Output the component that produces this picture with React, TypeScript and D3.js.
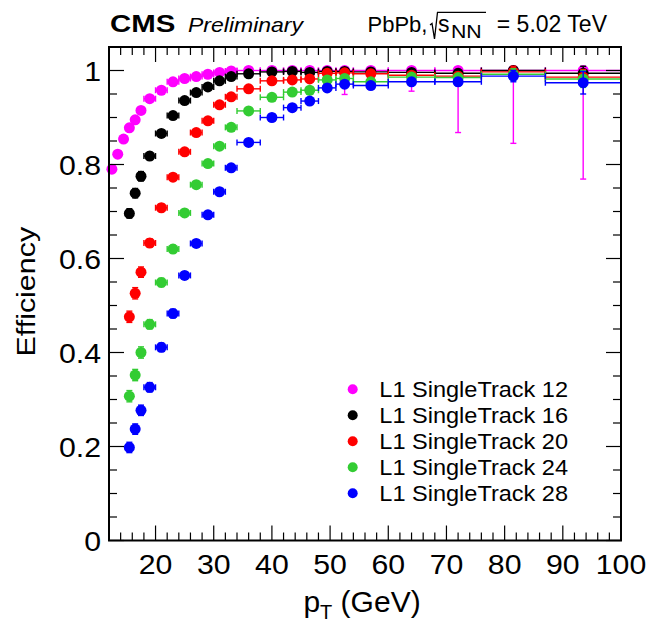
import React, { useMemo } from "react";
import * as d3 from "d3";

// ---- data ----
const binEdges = [12, 13, 14, 15, 16, 17, 18, 20, 22, 24, 26, 28, 30, 32, 34, 38, 42, 45, 48, 51, 54, 60, 68, 76, 87, 100];

const eff12 = [0.790, 0.822, 0.854, 0.878, 0.895, 0.915, 0.940, 0.958, 0.976, 0.983, 0.987, 0.992, 0.996, 0.999, 1.0, 1.0, 1.0, 1.0, 1.0, 1.0, 1.0, 1.0, 1.0, 1.0, 1.0];
const eff16 = [null, null, null, 0.696, 0.739, 0.775, 0.818, 0.866, 0.904, 0.936, 0.953, 0.965, 0.978, 0.987, 0.993, 0.997, 0.998, 0.996, 0.998, 0.998, 0.997, 0.996, 0.994, 1.0, 0.994];
const eff20 = [null, null, null, 0.476, 0.526, 0.571, 0.633, 0.708, 0.773, 0.827, 0.868, 0.893, 0.927, 0.944, 0.961, 0.978, 0.980, 0.982, 0.994, 0.995, 0.993, 0.990, 0.988, 0.997, 0.986];
const eff24 = [null, null, null, 0.307, 0.352, 0.400, 0.460, 0.549, 0.620, 0.697, 0.757, 0.802, 0.839, 0.879, 0.914, 0.943, 0.954, 0.958, 0.980, 0.983, 0.976, 0.986, 0.985, 0.992, 0.982];
const eff28 = [null, null, null, 0.198, 0.237, 0.277, 0.326, 0.411, 0.483, 0.564, 0.632, 0.693, 0.742, 0.793, 0.847, 0.900, 0.921, 0.935, 0.963, 0.971, 0.968, 0.976, 0.976, 0.988, 0.974];

// lower / upper statistical errors
const errLo12 = [0, 0, 0, 0, 0, 0, 0, 0, 0, 0, 0, 0, 0, 0, 0, 0, 0, 0, 0, 0.051, 0.01, 0.044, 0.132, 0.155, 0.231];
const errHi12 = [0, 0, 0, 0, 0, 0, 0, 0, 0, 0, 0, 0, 0, 0, 0, 0, 0, 0, 0, 0, 0, 0, 0, 0, 0];
const err16 = [0, 0, 0, 0.01, 0.01, 0.01, 0.008, 0.007, 0.006, 0.005, 0.004, 0.004, 0.003, 0.003, 0.003, 0.002, 0.002, 0.003, 0.003, 0.003, 0.004, 0.005, 0.008, 0.012, 0.015];
const err20 = [0, 0, 0, 0.012, 0.012, 0.011, 0.009, 0.008, 0.007, 0.006, 0.005, 0.005, 0.004, 0.004, 0.003, 0.003, 0.003, 0.003, 0.003, 0.004, 0.004, 0.005, 0.008, 0.012, 0.016];
const err24 = [0, 0, 0, 0.012, 0.012, 0.012, 0.01, 0.009, 0.008, 0.007, 0.006, 0.006, 0.005, 0.005, 0.004, 0.004, 0.004, 0.004, 0.004, 0.004, 0.005, 0.006, 0.008, 0.012, 0.018];
const err28 = [0, 0, 0, 0.011, 0.011, 0.011, 0.01, 0.009, 0.009, 0.008, 0.008, 0.007, 0.007, 0.006, 0.006, 0.005, 0.005, 0.005, 0.005, 0.005, 0.006, 0.007, 0.008, 0.012, 0.024];

const seriesLabels = ["L1 SingleTrack 12", "L1 SingleTrack 16", "L1 SingleTrack 20", "L1 SingleTrack 24", "L1 SingleTrack 28"];
const seriesColors = ["#ff00ff", "#000000", "#ff0000", "#33cc33", "#0000ff"];

const xMajorTicks = [20, 30, 40, 50, 60, 70, 80, 90, 100];
const yMajorTicks = [0, 0.2, 0.4, 0.6, 0.8, 1];
const yTickLabels = ["0", "0.2", "0.4", "0.6", "0.8", "1"];

const FONT = "'Liberation Sans', Arial, Helvetica, sans-serif";

export default function App() {
  const W = 649, H = 622;
  const left = 109, right = 621, top = 47, bottom = 540.5;
  const x = d3.scaleLinear().domain([12, 100]).range([left, right]);
  const y = d3.scaleLinear().domain([0, 1.05]).range([bottom, top]);

  const series = useMemo(() => {
    const vals = [eff12, eff16, eff20, eff24, eff28];
    const lo = [errLo12, err16, err20, err24, err28];
    const hi = [errHi12, err16, err20, err24, err28];
    return vals.map((v, s) => ({
      color: seriesColors[s],
      label: seriesLabels[s],
      points: v
        .map((val, i) => ({
          val,
          xl: binEdges[i],
          xh: binEdges[i + 1],
          xc: (binEdges[i] + binEdges[i + 1]) / 2,
          elo: lo[s][i],
          ehi: (val ?? 0) < 1 ? hi[s][i] : 0,
        }))
        .filter((p) => p.val !== null) as any[],
    }));
  }, []);

  const xMinor = d3.range(12, 100.01, 2).filter((t) => t % 10 !== 0);
  const yMinor = d3.range(0, 21).map((i) => i * 0.05).filter((_, i) => i % 4 !== 0);

  const cap = 3;
  const r = 5.5;

  const legendX = 352.7;
  const legendY0 = 389.3;
  const legendDy = 26;

  return (
    <svg width={W} height={H} style={{ position: "absolute", left: 0, top: 0, background: "#fff" }} fontFamily={FONT}>
      <rect x={0} y={0} width={W} height={H} fill="#fff" />

      {/* data */}
      {series.map((s, si) => (
        <g key={si} stroke={s.color} fill={s.color} strokeWidth={1.4}>
          {s.points.map((p: any, i: number) => {
            const cx = x(p.xc), cy = y(p.val);
            const x1 = x(p.xl), x2 = x(p.xh);
            const yl = y(p.val - p.elo), yh = y(p.val + p.ehi);
            return (
              <g key={i}>
                <line x1={x1} x2={x2} y1={cy} y2={cy} />
                <line x1={x1} x2={x1} y1={cy - cap} y2={cy + cap} />
                <line x1={x2} x2={x2} y1={cy - cap} y2={cy + cap} />
                {p.elo > 0 && (
                  <>
                    <line x1={cx} x2={cx} y1={cy} y2={yl} />
                    <line x1={cx - cap} x2={cx + cap} y1={yl} y2={yl} />
                  </>
                )}
                {p.ehi > 0 && (
                  <>
                    <line x1={cx} x2={cx} y1={cy} y2={yh} />
                    <line x1={cx - cap} x2={cx + cap} y1={yh} y2={yh} />
                  </>
                )}
              </g>
            );
          })}
          {s.points.map((p: any, i: number) => (
            <circle key={"m" + i} cx={x(p.xc)} cy={y(p.val)} r={r} stroke="none" />
          ))}
        </g>
      ))}

      {/* frame */}
      <rect x={left} y={top} width={right - left} height={bottom - top} fill="none" stroke="#000" strokeWidth={2} />

      {/* ticks */}
      <g stroke="#000" strokeWidth={1.2}>
        {xMajorTicks.map((t) => (
          <g key={"xM" + t}>
            <line x1={x(t)} x2={x(t)} y1={bottom} y2={bottom - 15} />
            <line x1={x(t)} x2={x(t)} y1={top} y2={top + 15} />
          </g>
        ))}
        {xMinor.map((t) => (
          <g key={"xm" + t}>
            <line x1={x(t)} x2={x(t)} y1={bottom} y2={bottom - 8} />
            <line x1={x(t)} x2={x(t)} y1={top} y2={top + 8} />
          </g>
        ))}
        {yMajorTicks.map((t) => (
          <g key={"yM" + t}>
            <line x1={left} x2={left + 15} y1={y(t)} y2={y(t)} />
            <line x1={right} x2={right - 15} y1={y(t)} y2={y(t)} />
          </g>
        ))}
        {yMinor.map((t) => (
          <g key={"ym" + t}>
            <line x1={left} x2={left + 8} y1={y(t)} y2={y(t)} />
            <line x1={right} x2={right - 8} y1={y(t)} y2={y(t)} />
          </g>
        ))}
      </g>

      {/* tick labels */}
      <g fontSize={28} fill="#000">
        {xMajorTicks.map((t) => (
          <text key={"xl" + t} transform={`translate(${x(t)},573.5) scale(1.08,1)`} textAnchor="middle">
            {t}
          </text>
        ))}
        {yMajorTicks.map((t, i) => (
          <text key={"yl" + t} transform={`translate(101,${y(t) + 10}) scale(1.08,1)`} textAnchor="end">
            {yTickLabels[i]}
          </text>
        ))}
      </g>

      {/* axis titles */}
      <text transform={`translate(362,612)`} textAnchor="middle" fontSize={30} fill="#000">
        p<tspan fontSize={20} dy={7}>T</tspan>
        <tspan dy={-7}> (GeV)</tspan>
      </text>
      <text transform={`translate(35,291.7) rotate(-90) scale(1.17,1)`} textAnchor="middle" fontSize={26} fill="#000">
        Efficiency
      </text>

      {/* header */}
      <text transform="translate(110,32) scale(1.2,1)" fontSize={24.5} fontWeight="bold" fill="#000">
        CMS
      </text>
      <text transform="translate(188,32) scale(1.15,1)" fontSize={20} fontStyle="italic" fill="#000">
        Preliminary
      </text>
      <text x={367.5} y={31.7} fontSize={22} fill="#000">PbPb,</text>
      <path d="M 430 25 L 432 23.5 L 434.5 39 L 437.5 12.3 L 486 12.3" fill="none" stroke="#000" strokeWidth={1.3} />
      <text x={438} y={31.7} fontSize={23} fill="#000">s</text>
      <text fontSize={19} fill="#000" transform="translate(451,38) scale(1.12,1)">NN</text>
      <text x={607} y={31.7} fontSize={23} fill="#000" textAnchor="end">= 5.02 TeV</text>

      {/* legend */}
      {series.map((s, i) => (
        <g key={"lg" + i}>
          <circle cx={legendX} cy={legendY0 + i * legendDy} r={5} fill={s.color} />
          <text transform={`translate(379.3,${legendY0 + i * legendDy + 8}) scale(1.07,1)`} fontSize={22} fill="#000">
            {s.label}
          </text>
        </g>
      ))}
    </svg>
  );
}
